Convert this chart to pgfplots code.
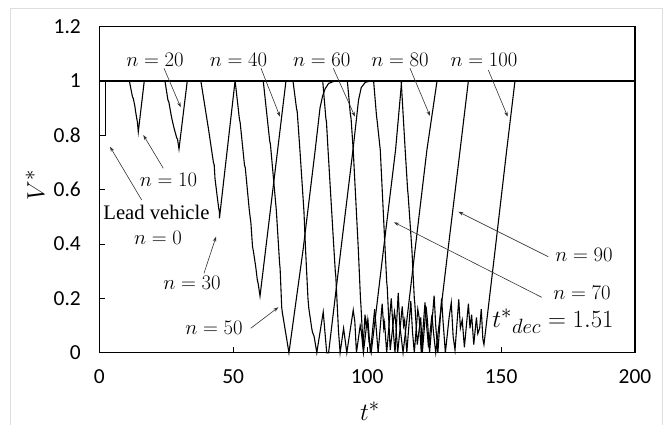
\documentclass[border=0pt]{standalone}
\usepackage{fontspec}
\setmainfont{Liberation Serif}
\newfontfamily\calibri{Carlito}
\usepackage{pgfplots}
\pgfplotsset{compat=1.18}
\usetikzlibrary{arrows.meta}

\begin{document}
\begin{tikzpicture}[x=1bp,y=1bp]
\useasboundingbox (0,0) rectangle (670,-425);
\draw[black!13, line width=1bp] (10,-425) -- (10,-8) -- (662,-8) -- (662,-425);
\begin{axis}[
  at={(99.3bp,-352.7bp)}, anchor=south west,
  scale only axis, width=535.7bp, height=326.4bp,
  xmin=0, xmax=200, ymin=0, ymax=1.2,
  xtick={0,50,100,150,200}, ytick={0,0.2,0.4,0.6,0.8,1,1.2},
  tick align=inside, tick pos=left, major tick length=6bp,
  axis line style={line width=1.2bp},
  every tick/.style={black, line width=0.8bp},
  tick label style={font=\calibri\fontsize{21.5}{21.5}\selectfont},
  /pgf/number format/assume math mode=true,
  yticklabel shift=15bp,
  xticklabel shift=13bp,
  xlabel={$t^*$}, ylabel={$V^*$},
  label style={font=\fontsize{24.88}{24.88}\selectfont},
  xlabel style={at={(axis description cs:0.505,-0.18)}, anchor=center},
  ylabel style={at={(axis description cs:-0.12,0.514)}, anchor=center},
  clip=false,
]
% all vehicles at V*=1
\addplot[black, line width=2bp] coordinates {(0,1)(200,1)};
% n = 0 (lead vehicle)
\addplot[black, line width=1.1bp] coordinates {(0,1)(0,0.8)(2.4,0.8)(2.4,1)};
% n = 10
\addplot[black, line width=1.1bp] coordinates {(11.2,1)(12.4,0.94)(12.7,0.935)(13.3,0.905)(13.5,0.89)(14.0,0.86)(14.2,0.85)(14.56,0.812)(16.8,1)};
% n = 20
\addplot[black, line width=1.1bp] coordinates {(24.5,1)(25.6,0.93)(26.0,0.92)(26.8,0.875)(27.1,0.86)(27.8,0.83)(28.2,0.815)(28.9,0.79)(29.2,0.785)(29.75,0.749)(32.85,1)};
% n = 30
\addplot[black, line width=1.1bp] coordinates {(37.9,1)(40.8,0.82)(42.6,0.70)(42.9,0.69)(43.2,0.64)(44.2,0.56)(44.6,0.53)(44.8,0.52)(44.85,0.494)(50.7,1)};
% n = 40
\addplot[black, line width=1.1bp] coordinates {(50.7,1)(52.3,0.86)(52.6,0.845)(54.2,0.69)(54.5,0.68)(56.0,0.524)(56.3,0.50)(56.6,0.477)(57.2,0.39)(57.5,0.375)(58.4,0.316)(59.0,0.267)(59.3,0.255)(60.0,0.208)(69.7,1)};
% n = 50
\addplot[black, line width=1.1bp] coordinates {(61.2,1)(63.6,0.78)(63.9,0.765)(66.1,0.522)(67.3,0.33)(67.5,0.31)(68.1,0.167)(68.3,0.15)(70.8,0)(76.1,0.38)(80.6,0.745)(82.4,0.90)(83.4,0.945)(84.3,0.97)(85.6,0.99)(88.2,1)};
% n = 60
\addplot[black, line width=1.1bp] coordinates {(72.3,1)(73.6,0.9)(73.9,0.885)(74.9,0.745)(76.2,0.55)(76.4,0.52)(77,0.38)(77.9,0.2)(78.2,0.165)(79.3,0.09)(79.6,0.075)(80.2,0.06)(81.2,0)(83.6,0.15)(84.9,0)(85.6,0)(90.2,0.38)(94.7,0.745)(96.0,0.86)(96.8,0.93)(97.8,0.975)(99.3,0.994)(101.8,1)};
% n = 70
\addplot[black, line width=1.1bp] coordinates {(83.4,1)(84.6,0.86)(84.8,0.85)(85.4,0.745)(87.6,0.38)(88.1,0.3)(88.3,0.28)(89.3,0.08)(89.9,0)(91.2,0.09)(91.6,0.06)(92.4,0.0)(94.8,0.157)(95.4,0.114)(96.0,0)(97.4,0.1)(97.8,0.08)(98.6,0.0)(100.0,0.12)(100.7,0.04)(101.5,0)(106.1,0.38)(110.6,0.745)(112.9,1)};
% n = 80
\addplot[black, line width=1.1bp] coordinates {(92.6,1)(93.7,0.88)(94.0,0.86)(94.8,0.745)(96.7,0.38)(97.5,0.2)(97.7,0.17)(98.5,0.02)(99.2,0.14)(99.6,0.1)(100.3,0.12)(101.2,0.0)(102.8,0.16)(103.3,0.1)(104.1,0.0)(105.6,0.18)(106.2,0.09)(106.5,0.11)(107.3,0.0)(109.0,0.2)(109.6,0.1)(110.4,0.0)(111.6,0.22)(112.2,0.1)(113.4,0)(117.9,0.38)(122.3,0.745)(126.1,1)};
% n = 90
\addplot[black, line width=1.1bp] coordinates {(102.4,1)(103.5,0.87)(103.7,0.855)(104.9,0.745)(106.7,0.38)(107.3,0.26)(107.5,0.24)(108.6,0.01)(110.2,0.15)(110.6,0.12)(111.4,0.0)(113.1,0.17)(113.6,0.1)(114.0,0.12)(114.8,0.0)(116.3,0.19)(116.9,0.08)(117.6,0.0)(118.9,0.16)(119.4,0.13)(120.2,0.0)(121.6,0.185)(122.2,0.1)(122.9,0.02)(124.2,0.14)(124.7,0.08)(125.6,0)(130.2,0.38)(134.7,0.745)(137.8,1)};
% n = 100
\addplot[black, line width=1.1bp] coordinates {(112.7,1)(114.2,0.745)(115.1,0.6)(115.3,0.58)(116.7,0.38)(117.6,0.2)(117.8,0.18)(118.7,0.03)(120.0,0.13)(120.6,0.0)(122.0,0.17)(122.5,0.12)(123.3,0.0)(125.0,0.21)(125.6,0.1)(126.4,0.0)(127.8,0.2)(128.3,0.12)(129.2,0.0)(130.6,0.13)(131.4,0.184)(132.1,0.06)(132.8,0.01)(134.2,0.196)(134.8,0.09)(135.5,0.12)(136.3,0.02)(137.8,0.18)(138.4,0.09)(139.0,0.14)(139.8,0.03)(140.8,0.13)(141.3,0.07)(142.0,0.09)(142.6,0.16)(143.2,0.05)(143.6,0.03)(147.8,0.38)(152.1,0.745)(155.2,1)};
\end{axis}
% annotations
\begin{scope}[font=\fontsize{20.74}{20.74}\selectfont]
\node at (155,-60) {$n = 20$};
\node at (238.5,-60) {$n = 40$};
\node at (321.7,-60) {$n = 60$};
\node at (400,-60) {$n = 80$};
\node at (484,-60) {$n = 100$};
\node at (168.5,-180) {$n = 10$};
\node at (156.5,-212) {Lead vehicle};
\node at (158,-238) {$n = 0$};
\node at (192,-283) {$n = 30$};
\node at (214,-328) {$n = 50$};
\node at (584,-255) {$n = 90$};
\node at (582,-293) {$n = 70$};
\end{scope}
\node[font=\fontsize{24.88}{24.88}\selectfont] at (553,-321) {${t^*}_{dec} = 1.51$};
\begin{scope}[-{Stealth[length=5bp,width=3.5bp]}, line width=0.6bp, black!80]
\draw (141.7,-200) -- (110,-146.7);
\draw (163.3,-168.3) -- (143.3,-135);
\draw (164,-68.3) -- (180.7,-107.3);
\draw (261,-68.3) -- (280,-116.7);
\draw (333.3,-68.3) -- (355,-116.7);
\draw (410,-68.3) -- (430,-116);
\draw (488.3,-70) -- (507.7,-116.7);
\draw (204,-273.3) -- (216,-236.7);
\draw (250.7,-328.3) -- (278.3,-307.3);
\draw (548.3,-256.7) -- (458.3,-211.7);
\draw (541.7,-297.3) -- (394,-222.3);
\end{scope}
\end{tikzpicture}
\end{document}
